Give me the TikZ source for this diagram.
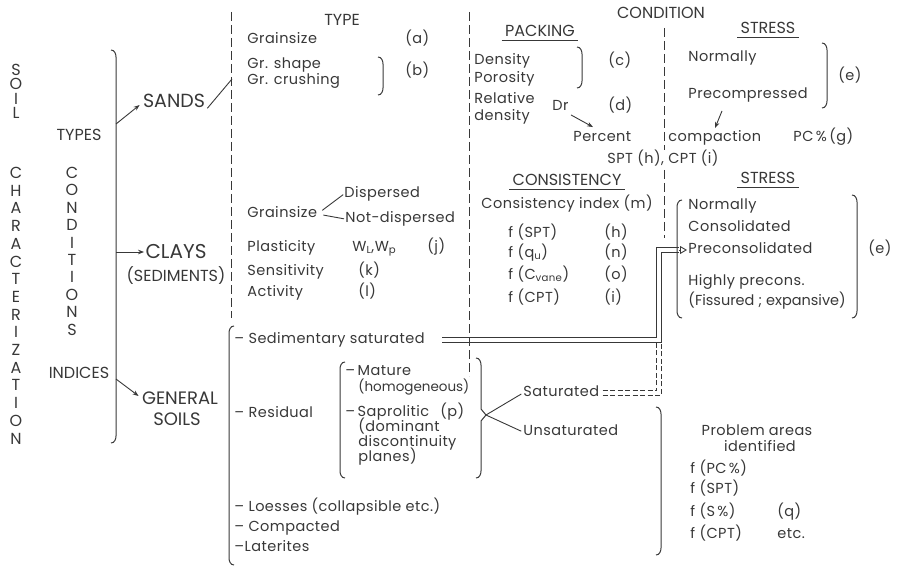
\documentclass[tikz,border=0pt]{standalone}
\usepackage{fontspec}
\setmainfont{Poppins}
\newfontfamily\lettering{Poppins}[LetterSpace=3]
\usetikzlibrary{arrows.meta, positioning}
\definecolor{ink}{HTML}{383838}

% brackets: closing one hooks to the left, opening one hooks to the right
\newcommand{\closebr}[3]{\draw[brak] (#1-5,#2) to[out=0,in=90] (#1,#2+7) -- (#1,#3-7) to[out=-90,in=0] (#1-5,#3);}
\newcommand{\openbr}[3]{\draw[brak] (#1+5,#2) to[out=180,in=90] (#1,#2+7) -- (#1,#3-7) to[out=-90,in=180] (#1+5,#3);}

\begin{document}
\begin{tikzpicture}[x=1pt, y=-1pt, color=ink, line width=0.9pt,
    txt/.style={anchor=west, inner sep=0pt, text height=10pt, text depth=3pt, font=\lettering\fontsize{14.5}{16}\selectfont},
    hd/.style={inner sep=0pt, text height=10pt, text depth=3pt, font=\fontsize{16}{18}\selectfont},
    big/.style={inner sep=0pt, font=\fontsize{20}{22}\selectfont},
    vl/.style={inner sep=0pt, font=\fontsize{16}{18}\selectfont},
    guide/.style={dash pattern=on 9pt off 4pt},
    brak/.style={line width=1pt},
    arr/.style={-{Stealth[length=6pt, width=4.5pt]}},
    dashlink/.style={dash pattern=on 5pt off 2.5pt}]
    \useasboundingbox (0,0) rectangle (898,567);

    % Left column
    \foreach \ch [count=\i] in {S,O,I,L}
        \node[vl] (soil\i) at (16,{70+14.3*(\i-1)}) {\ch};
    \foreach \ch [count=\i] in {C,H,A,R,A,C,T,E,R,I,Z,A,T,I,O,N}
        \node[vl] (char\i) at (16,{173+17.7*(\i-1)}) {\ch};
    \foreach \ch [count=\i] in {C,O,N,D,I,T,I,O,N,S}
        \node[vl] (cond\i) at (72,{173+17.4*(\i-1)}) {\ch};
    \node[vl] (types) at (79,135) {TYPES};
    \node[vl] (indices) at (79,373) {INDICES};

    % Main brace and soil groups
    \closebr{116}{50}{443}
    \coordinate (bS) at (116,124);
    \coordinate (bC) at (116,252);
    \coordinate (bG) at (116,379);
    \node[big, font=\fontsize{19}{21}\selectfont] (sands) at (174,101) {SANDS};
    \node[big] (clays) at (176,252) {CLAYS};
    \node[vl] (sedi) at (176,276) {(SEDIMENTS)};
    \node[big, font=\fontsize{18}{20}\selectfont] (gen) at (180,398) {GENERAL};
    \node[big, font=\fontsize{18}{20}\selectfont] (soils) at (177,419) {SOILS};
    \draw[arr] (bS) -- ([xshift=-3pt, yshift=-4pt]sands.west);
    \draw[arr] (bC) -- ([xshift=-1pt]clays.west);
    \draw[arr] (bG) -- ([xshift=-3pt, yshift=2pt]gen.west);
    \coordinate (slashtop) at (232,79);
    \draw ([xshift=2pt]sands.south east) -- (slashtop);

    % Column separators
    \draw[guide] (231,12) -- (231,318);
    \draw[guide] (469,12) -- (469,376);
    \draw[guide] (664,28) -- (664,150);
    \draw[guide] (664,170) -- (664,238);

    % Headers
    \node[hd] (type) at (342,22) {TYPE};
    \node[hd] (condition) at (661,15) {CONDITION};
    \node[hd] (packing) at (540,33) {PACKING};
    \node[hd] (stress) at (768,30) {STRESS};
    \node[hd] (consist) at (567,182) {CONSISTENCY};
    \node[hd] (stresstwo) at (768,180) {STRESS};
    \foreach \h in {packing, stress, consist, stresstwo}
        \draw ([xshift=-3pt, yshift=-1pt]\h.south west) -- ([xshift=3pt, yshift=-1pt]\h.south east);

    % Type of sands
    \node[txt] (gsone) at (247,40) {Grainsize};
    \node[txt] (la) at (405,40) {(a)};
    \node[txt] (shape) at (247,65) {Gr. shape};
    \node[txt] (crush) at (247,81) {Gr. crushing};
    \closebr{383}{57}{95}
    \node[txt] (lb) at (405,72) {(b)};

    % Type of clays
    \node[txt] (gstwo) at (247,214) {Grainsize};
    \node[txt] (disp) at (344,194) {Dispersed};
    \node[txt] (ndisp) at (345,219) {Not-dispersed};
    \draw[shorten <=6pt, shorten >=1pt] (gstwo.east) -- (disp.west);
    \draw[shorten <=6pt, shorten >=1pt] (gstwo.east) -- (ndisp.west);
    \node[txt] (plast) at (247,248) {Plasticity};
    \node[txt] (wlwp) at (352,248) {W\textsubscript{L},W\textsubscript{p}};
    \node[txt] (lj) at (427,248) {(j)};
    \node[txt] (sens) at (247,272) {Sensitivity};
    \node[txt] (lk) at (358,272) {(k)};
    \node[txt] (activ) at (247,293) {Activity};
    \node[txt] (ll) at (358,293) {(l)};

    % General soils
    \openbr{229}{326}{565}
    \node[txt] (sed) at (234,340) {\textendash\ Sedimentary saturated};
    \node[txt] (resid) at (234,414) {\textendash\ Residual};
    \node[txt] (loess) at (234,508) {\textendash\ Loesses (collapsible etc.)};
    \node[txt] (compd) at (234,528) {\textendash\ Compacted};
    \node[txt] (later) at (234,548) {\textendash Laterites};
    \openbr{340}{362}{478}
    \node[txt] (mature) at (345,372) {\textendash\,Mature};
    \node[txt, font=\fontsize{13.5}{15}\selectfont] (homog) at (358,388) {(homogeneous)};
    \node[txt] (sapro) at (345,413) {\textendash\,Saprolitic};
    \node[txt] (lp) at (440,413) {(p)};
    \node[txt] (domin) at (358,428) {(dominant};
    \node[txt] (discon) at (358,443) {discontinuity};
    \node[txt] (planes) at (358,458) {planes)};
    \draw[brak] (476,358) to[out=0,in=90] (481,365) -- (481,409) -- (486,415) -- (481,421) -- (481,471) to[out=-90,in=0] (476,478);
    \coordinate (tip) at (486,415);
    \node[txt] (satd) at (523,393) {Saturated};
    \node[txt] (unsat) at (523,432) {Unsaturated};
    \draw[shorten >=2pt] (tip) -- (satd.west);
    \draw[shorten >=2pt] (tip) -- (unsat.west);

    % Packing
    \node[txt] (dens) at (474,61) {Density};
    \node[txt] (poros) at (474,79) {Porosity};
    \closebr{582}{47}{88}
    \node[txt] (lc) at (608,62) {(c)};
    \node[txt] (relat) at (474,100) {Relative};
    \node[txt] (rdens) at (474,117) {density};
    \node[txt] (dr) at (552,107) {Dr};
    \node[txt] (ld) at (608,107) {(d)};
    \node[txt] (pct) at (573,138) {Percent};
    \node[txt] (cmp) at (668,138) {compaction};
    \node[txt] (pcg) at (793,138) {PC\,\%\,(g)};
    \node[txt] (sptcpt) at (607,160) {SPT (h), CPT (i)};
    \draw[arr] ([xshift=2pt, yshift=-1pt]dr.south east) -- ([xshift=20pt, yshift=4pt]pct.north west);

    % Stress of sands
    \node[txt] (normone) at (688,58) {Normally};
    \node[txt] (precomp) at (688,95) {Precompressed};
    \closebr{827}{43}{108}
    \node[txt] (leone) at (838,77) {(e)};
    \draw[arr] ([xshift=34pt, yshift=-9pt]precomp.south west) -- ([xshift=47pt, yshift=3pt]cmp.north west);

    % Consistency
    \node[txt] (cidx) at (481,205) {Consistency index (m)};
    \node[txt] (fspt) at (508,234) {f (SPT)};
    \node[txt] (lh) at (604,234) {(h)};
    \node[txt] (fqu) at (508,254) {f (q\textsubscript{u})};
    \node[txt] (ln) at (604,254) {(n)};
    \node[txt] (fcv) at (508,276) {f (C\textsubscript{vane})};
    \node[txt] (lo) at (604,276) {(o)};
    \node[txt] (fcpt) at (508,299) {f (CPT)};
    \node[txt] (li) at (604,299) {(i)};

    % Stress of clays
    \openbr{677}{200}{318}
    \node[txt] (normtwo) at (688,206) {Normally};
    \node[txt] (consol) at (688,228) {Consolidated};
    \node[txt] (precon) at (688,250) {Preconsolidated};
    \node[txt] (highly) at (688,282) {Highly precons.};
    \node[txt, font=\fontsize{14.5}{16}\selectfont] (fiss) at (688,302) {(Fissured ; expansive)};
    \closebr{857}{195}{318}
    \node[txt] (letwo) at (868,250) {(e)};

    % Double links from general soils
    \coordinate (riser) at (659,300);
    \draw[shorten <=17pt, shorten >=9pt] ([yshift=2.2pt]sed.east) -| ([xshift=-2.2pt]riser) |- ([yshift=2.2pt]precon.west);
    \draw[shorten <=17pt, shorten >=9pt] ([yshift=-2.2pt]sed.east) -| ([xshift=2.2pt]riser) |- ([yshift=-2.2pt]precon.west);
    \draw[-{Triangle[open, length=7pt, width=8pt]}, shorten >=1pt] ([xshift=-9pt]precon.west) -- (precon.west);
    \coordinate (joint) at (659,343);
    \draw[dashlink, shorten <=3pt] ([yshift=2.2pt]satd.east) -| ([xshift=-2.2pt]joint);
    \draw[dashlink, shorten <=3pt] ([yshift=-2.2pt]satd.east) -| ([xshift=2.2pt]joint);

    % Problem areas
    \closebr{661}{407}{555}
    \node[hd, font=\lettering\fontsize{14.5}{16}\selectfont] (problem) at (757,432) {Problem areas};
    \node[hd, font=\lettering\fontsize{14.5}{16}\selectfont] (ident) at (760,448) {identified};
    \node[txt] (fpc) at (690,470) {f (PC\,\%)};
    \node[txt] (fspttwo) at (690,490) {f (SPT)};
    \node[txt] (fs) at (690,513) {f (S\,\%)};
    \node[txt] (lq) at (777,513) {(q)};
    \node[txt] (fcpttwo) at (690,535) {f (CPT)};
    \node[txt] (etc) at (777,535) {etc.};
\end{tikzpicture}
\end{document}
